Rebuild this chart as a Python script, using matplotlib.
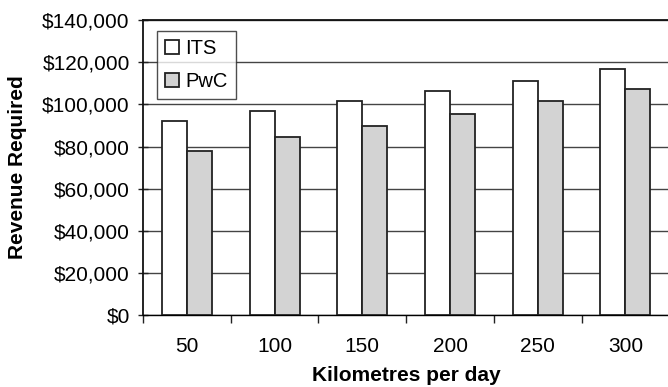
import matplotlib.pyplot as plt
import numpy as np
import matplotlib
from matplotlib.ticker import FuncFormatter

matplotlib.rcParams['font.family'] = ['Liberation Sans', 'DejaVu Sans']
matplotlib.rcParams['font.size'] = 15

km = ['50', '100', '150', '200', '250', '300']
its = [92200, 97000, 101700, 106500, 111200, 116600]
pwc = [78000, 84600, 89700, 95400, 101700, 107100]

fig = plt.figure(figsize=(6.68, 3.87), dpi=100)
ax = fig.add_axes([0.214, 0.186, 0.788, 0.762])

x = np.arange(len(km))
w = 0.285
ax.bar(x - w / 2, its, w, color='white', edgecolor='#222222', linewidth=1.3, label='ITS', zorder=3)
ax.bar(x + w / 2, pwc, w, color='#d3d3d3', edgecolor='#222222', linewidth=1.3, label='PwC', zorder=3)

ax.set_ylim(0, 140000)
ax.set_xlim(-0.5, 5.5)
ax.set_yticks(np.arange(0, 140001, 20000))
ax.yaxis.set_major_formatter(FuncFormatter(lambda v, p: '${:,.0f}'.format(v)))
ax.yaxis.grid(True, color='#444444', linewidth=1.0, zorder=0)
ax.set_axisbelow(True)

# ticks between groups, labels centred on groups
ax.set_xticks(np.arange(-0.5, 5.6, 1.0))
ax.set_xticklabels([])
ax.set_xticks(x, minor=True)
ax.set_xticklabels(km, minor=True)
ax.tick_params(axis='x', which='minor', length=0, pad=16)
ax.tick_params(axis='x', which='major', direction='out', length=6, width=1, color='#222222')
ax.tick_params(axis='y', direction='inout', length=7, width=1, color='#222222', pad=6)

for s in ['left', 'top']:
    ax.spines[s].set_linewidth(1.3)
    ax.spines[s].set_color('#111111')
ax.spines['bottom'].set_linewidth(1.0)
ax.spines['right'].set_visible(False)

ax.set_xlabel('Kilometres per day', fontweight='bold', labelpad=7)
ax.set_ylabel('Revenue Required', fontweight='bold', labelpad=11)

leg = ax.legend(loc='upper left', bbox_to_anchor=(0.027, 0.963), borderaxespad=0,
                frameon=True, fancybox=False,
                handlelength=0.7, handleheight=0.7, handletextpad=0.3, borderpad=0.4,
                labelspacing=0.7, fontsize=14.5)
leg.get_frame().set_edgecolor('#222222')
leg.get_frame().set_linewidth(1.0)

plt.savefig('out.png', dpi=100)
